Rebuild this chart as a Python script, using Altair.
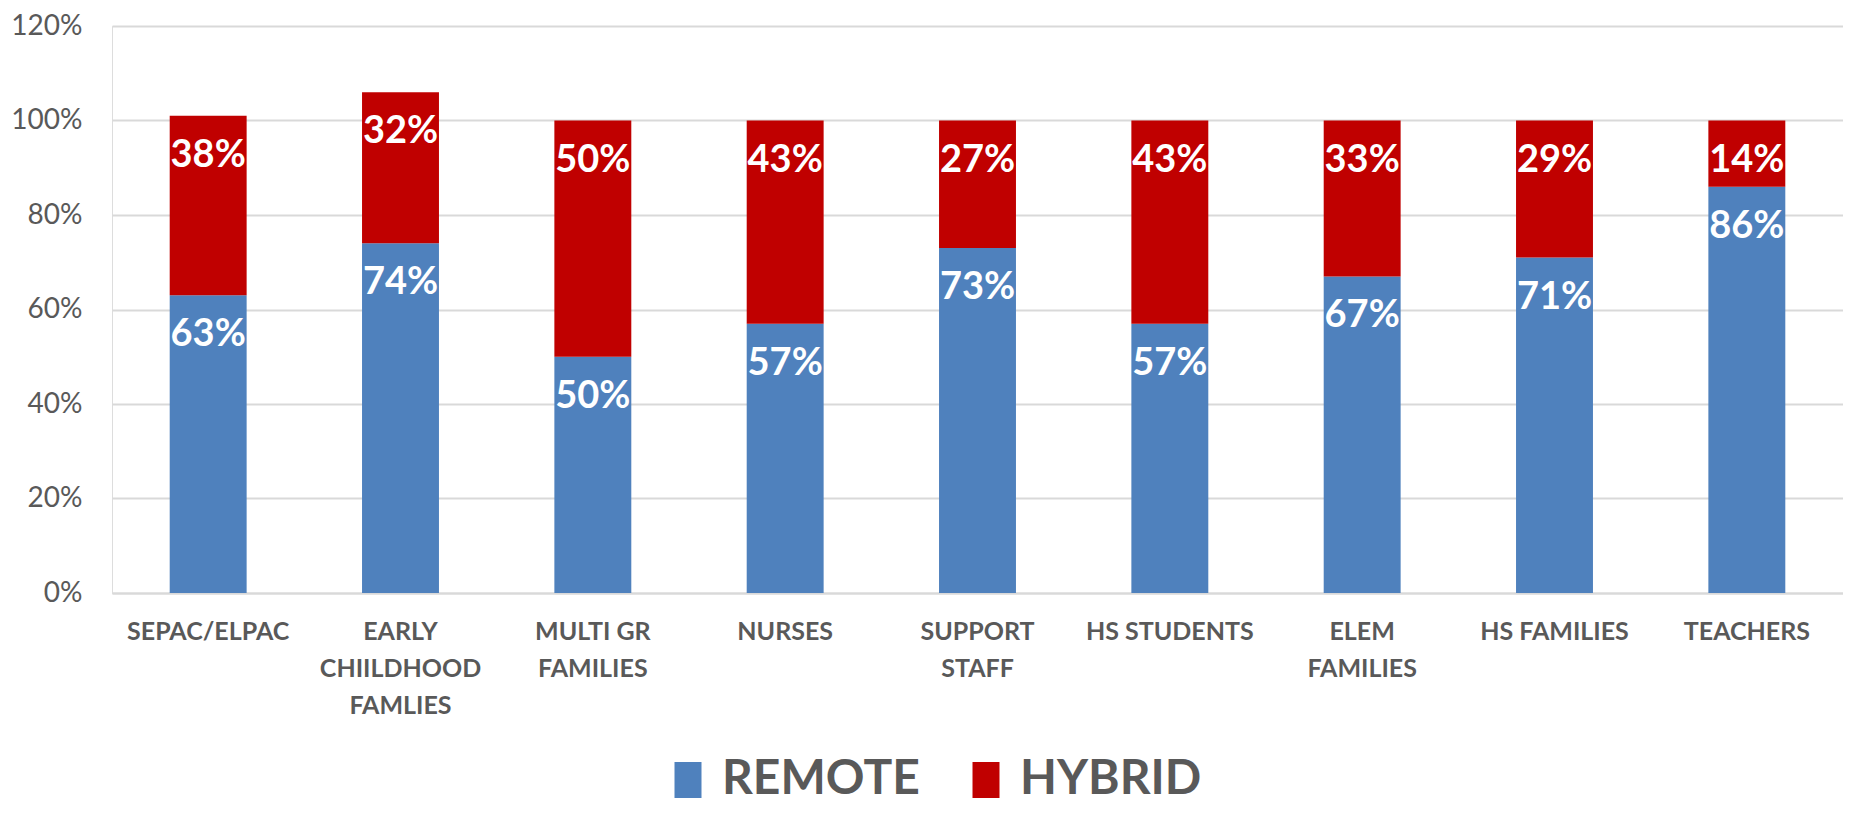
import altair as alt
import pandas as pd

categories = ["SEPAC/ELPAC", "EARLY|CHIILDHOOD|FAMLIES", "MULTI GR|FAMILIES", "NURSES",
              "SUPPORT|STAFF", "HS STUDENTS", "ELEM|FAMILIES", "HS FAMILIES", "TEACHERS"]
remote = [0.63, 0.74, 0.50, 0.57, 0.73, 0.57, 0.67, 0.71, 0.86]
hybrid = [0.38, 0.32, 0.50, 0.43, 0.27, 0.43, 0.33, 0.29, 0.14]
series = ["REMOTE", "HYBRID"]
colors = ["#4f81bd", "#c00000"]

rows = []
for c, r, h in zip(categories, remote, hybrid):
    rows.append({"cat": c, "series": "REMOTE", "order": 0, "value": r})
    rows.append({"cat": c, "series": "HYBRID", "order": 1, "value": h})
df = pd.DataFrame(rows)

FONT = "Lato"
GREY = "#595959"

base = alt.Chart(df).transform_stack(
    stack="value", groupby=["cat"], as_=["y0", "y1"],
    sort=[alt.SortField("order", order="ascending")]
)

x = alt.X("cat:N", sort=categories, title=None,
          scale=alt.Scale(paddingInner=0.6, paddingOuter=0.3),
          axis=alt.Axis(labelAngle=0, labelFont=FONT, labelFontSize=25,
                        labelFontWeight="bold", labelColor=GREY,
                        labelExpr="split(datum.label, '|')", labelLineHeight=37,
                        labelPadding=26, ticks=False, domain=True,
                        domainColor="#d9d9d9", domainWidth=2, labelBaseline="top"))

bars = base.mark_bar().encode(
    x=x,
    y=alt.Y("y1:Q", title=None,
            scale=alt.Scale(domain=[0, 1.2], nice=False),
            axis=alt.Axis(format=".0%", values=[0, 0.2, 0.4, 0.6, 0.8, 1.0, 1.2],
                          labelFont=FONT, labelFontSize=28, labelColor=GREY,
                          labelPadding=30, ticks=False, domain=False,
                          gridColor="#d9d9d9", gridWidth=2)),
    y2="y0:Q",
    color=alt.Color("series:N", scale=alt.Scale(domain=series, range=colors),
                    legend=alt.Legend(title=None, orient="none", direction="horizontal",
                                      legendX=552, legendY=730,
                                      symbolType="M-0.75,-1L0.75,-1L0.75,1L-0.75,1Z",
                                      symbolSize=1296, symbolStrokeWidth=0,
                                      labelFont=FONT, labelFontSize=48,
                                      labelFontWeight="bold", labelColor=GREY,
                                      labelLimit=600,
                                      labelOffset=10, columnPadding=42, padding=0)),
    order=alt.Order("order:Q"),
)

labels = base.mark_text(font=FONT, fontSize=38, fontWeight="bold", color="white",
                        baseline="middle", dy=40).encode(
    x=alt.X("cat:N", sort=categories),
    y="y1:Q",
    text=alt.Text("value:Q", format=".0%"),
)

chart = (bars + labels).properties(
    width=1731, height=567,
    autosize=alt.AutoSizeParams(type="none"),
    padding={"left": 104, "top": 18, "right": 0, "bottom": 214},
).configure_view(stroke=None).configure(background="white")

chart.save("out.html", embed_options={"renderer": "svg", "actions": False})
